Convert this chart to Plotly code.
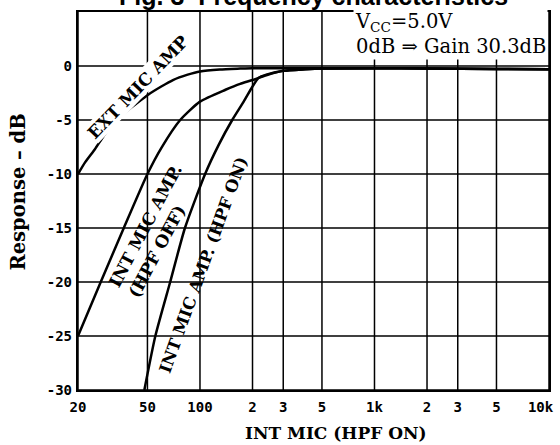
import math
import plotly.graph_objects as go

# ---- data -------------------------------------------------------------
freq_ticks = [20, 50, 100, 200, 300, 500, 1000, 2000, 3000, 5000, 10000]
freq_tick_labels = ["20", "50", "100", "2", "3", "5", "1k", "2", "3", "5", "10k\u00a0\u00a0"]
db_ticks = [-30, -25, -20, -15, -10, -5, 0]
db_tick_labels = ["-30", "-25", "-20", "-15", "-10", "-5", "0"]
db_top = 5

ext_freq = [20, 22, 25, 28, 33, 40, 50, 60, 70, 85, 100, 130, 170, 200, 300, 500, 1000, 2000, 5000, 10000]
ext_db = [-10.0, -8.9, -7.7, -6.5, -5.0, -3.9, -2.7, -1.9, -1.3, -0.8, -0.5, -0.32, -0.24, -0.2, -0.2, -0.2, -0.2, -0.22, -0.27, -0.3]

hpfoff_freq = [20, 27, 36.6, 50, 60, 77, 100, 140, 170, 200, 240, 300, 400, 500, 1000, 2000, 5000, 10000]
hpfoff_db = [-25.0, -20.0, -15.0, -10.0, -7.6, -5.0, -3.3, -2.2, -1.65, -1.3, -0.85, -0.45, -0.3, -0.22, -0.2, -0.22, -0.27, -0.3]

hpfon_freq = [48, 55.5, 67.5, 82, 107, 128, 153, 178, 200, 217, 240, 300, 400, 500, 1000, 2000, 5000, 10000]
hpfon_db = [-30.0, -25.0, -20.0, -15.0, -10.0, -7.3, -5.0, -3.3, -1.9, -1.1, -0.8, -0.45, -0.3, -0.22, -0.2, -0.22, -0.27, -0.3]

# ---- layout helpers ----------------------------------------------------
W, H = 560, 445
L, R, T, B = 78, 11, 12, 55
PW = W - L - R
PH = H - T - B


def px(x):
    return (x - L) / PW


def py(y):
    return (H - B - y) / PH


SERIF = "DejaVu Serif"
MONO = "DejaVu Sans Mono"
line_style = dict(color="black", width=2.5, shape="spline", smoothing=0.6)

fig = go.Figure()

# grid: one trace of vertical and horizontal lines at the tick values
gx, gy = [], []
fmin, fmax = freq_ticks[0], freq_ticks[-1]
dmin = db_ticks[0]
for f in freq_ticks:
    gx += [f, f, None]
    gy += [dmin, db_top, None]
for d in db_ticks:
    gx += [fmin, fmax, None]
    gy += [d, d, None]
fig.add_trace(go.Scatter(x=gx, y=gy, mode="lines", line=dict(color="black", width=1.5),
                         showlegend=False, hoverinfo="skip", connectgaps=False))

for fx, fy in [(ext_freq, ext_db), (hpfoff_freq, hpfoff_db), (hpfon_freq, hpfon_db)]:
    fig.add_trace(go.Scatter(x=fx, y=fy, mode="lines", line=line_style,
                             showlegend=False, hoverinfo="skip"))

label_font = dict(family=SERIF, size=17, color="black", weight="bold")
annotations = [
    dict(text="EXT MIC AMP", x=px(138), y=py(87), textangle=-46, bgcolor="white"),
    dict(text="INT MIC AMP.<br>(HPF OFF)", x=px(155), y=py(231), textangle=-62, align="left"),
    dict(text="INT MIC AMP. (HPF ON)", x=px(203), y=py(265), textangle=-70,
         font=dict(family=SERIF, size=16.5, color="black", weight="bold")),
]
for a in annotations:
    a.setdefault("font", label_font)
    a.update(xref="paper", yref="paper", showarrow=False,
             borderpad=0, xanchor="center", yanchor="middle")

annotations += [
    dict(text="V<sub>CC</sub>=5.0V<br>0dB ⇒ Gain 30.3dB", x=px(353), y=py(34),
         xref="paper", yref="paper", xanchor="left", yanchor="middle", align="left",
         showarrow=False, bgcolor="white", borderpad=1,
         font=dict(family=SERIF, size=19.5, color="black")),
    dict(text="Fig. 3\u00a0\u00a0Frequency characteristics", x=px(510), y=py(-4),
         xref="paper", yref="paper", xanchor="right", yanchor="middle", showarrow=False,
         font=dict(family="Liberation Sans", size=25, color="black", weight="bold")),
    dict(text="Response – dB", x=px(17.5), y=py(192), textangle=-90,
         xref="paper", yref="paper", xanchor="center", yanchor="middle", showarrow=False,
         font=dict(family=SERIF, size=19.5, color="black", weight="bold")),
    dict(text="INT MIC (HPF ON)", x=px(336), y=py(433),
         xref="paper", yref="paper", xanchor="center", yanchor="middle", showarrow=False,
         font=dict(family=SERIF, size=17, color="black", weight="bold")),
]

axis_common = dict(showline=True, linecolor="black", linewidth=2.4, mirror=True,
                   showgrid=False, zeroline=False,
                   ticks="outside", tickcolor="rgba(0,0,0,0)",
                   ticklabeloverflow="allow",
                   tickfont=dict(family=MONO, size=14, color="black", weight="bold"))

fig.update_layout(
    width=W, height=H, autosize=False,
    margin=dict(l=L, r=R, t=T, b=B, autoexpand=False),
    paper_bgcolor="white", plot_bgcolor="white",
    xaxis=dict(type="log", range=[math.log10(fmin), math.log10(fmax)],
               tickvals=freq_ticks, ticktext=freq_tick_labels, ticklen=3,
               **axis_common),
    yaxis=dict(range=[dmin, db_top], tickmode="array", tickvals=db_ticks,
               ticktext=db_tick_labels, ticklen=1, **axis_common),
    annotations=annotations,
)

fig.write_html("out.html", config={"displayModeBar": False},
               post_script="document.body.style.margin='0';document.body.style.padding='0';")
